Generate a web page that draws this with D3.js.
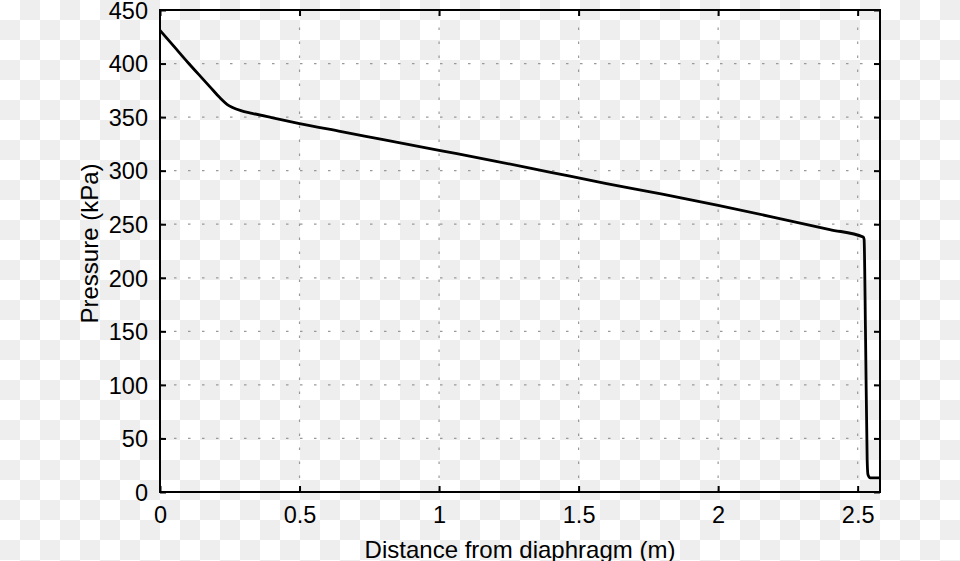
<!DOCTYPE html>
<html><head><meta charset="utf-8">
<script src="https://cdn.jsdelivr.net/npm/d3@7"></script>
<style>body{margin:0;padding:0;overflow:hidden}svg{display:block}</style>
</head><body>
<svg id="c" width="960" height="561"></svg>
<script>
const distance = [0, 0.05, 0.1, 0.145, 0.18, 0.215, 0.24, 0.26, 0.29, 0.33, 0.4, 0.5, 0.65, 0.8, 1.0, 1.2, 1.4, 1.6, 1.8, 2.0, 2.2, 2.4, 2.52, 2.523, 2.528, 2.534, 2.537, 2.545, 2.58];
const pressure = [431, 416, 401, 388, 378, 368, 362, 359, 356, 353.5, 349.5, 344, 336.5, 329, 319, 309, 298.5, 288, 278, 267.5, 256.5, 245, 238, 236, 150, 30, 16, 13.2, 13.2];
const xTicks = [0, 0.5, 1, 1.5, 2, 2.5];
const xTickLabels = ["0", "0.5", "1", "1.5", "2", "2.5"];
const yTicks = [0, 50, 100, 150, 200, 250, 300, 350, 400, 450];
const xLabel = "Distance from diaphragm (m)";
const yLabel = "Pressure (kPa)";

const svg = d3.select("#c");
const W = 960, H = 561;
const m = {l: 160, r: 80, t: 10, b: 69};
const defs = svg.append("defs");
const pat = defs.append("pattern").attr("id","chk").attr("width",40).attr("height",40).attr("patternUnits","userSpaceOnUse");
pat.append("rect").attr("width",40).attr("height",40).attr("fill","#ffffff");
pat.append("rect").attr("x",20).attr("y",0).attr("width",20).attr("height",20).attr("fill","#eeeeee");
pat.append("rect").attr("x",0).attr("y",20).attr("width",20).attr("height",20).attr("fill","#eeeeee");
svg.append("rect").attr("width",W).attr("height",H).attr("fill","url(#chk)");

const x = d3.scaleLinear().domain([0, 2.58]).range([m.l, W - m.r]);
const y = d3.scaleLinear().domain([0, 450]).range([H - m.b, m.t]);
const font = "'Liberation Sans', Arial, sans-serif";

// grid
const g = svg.append("g");
g.selectAll(".vg").data(xTicks.slice(1)).enter().append("line")
  .attr("x1", d => x(d)).attr("x2", d => x(d)).attr("y1", y(0)).attr("y2", y(450))
  .attr("stroke", "#999").attr("stroke-width", 1.2).attr("stroke-dasharray", "2.5,11.5");
g.selectAll(".hg").data(yTicks.slice(1, -1)).enter().append("line")
  .attr("y1", d => y(d)).attr("y2", d => y(d)).attr("x1", x(0)).attr("x2", x(2.58))
  .attr("stroke", "#999").attr("stroke-width", 1.2).attr("stroke-dasharray", "2.5,11.5");

// axes
const tickLen = 6;
const ax = svg.append("g").attr("transform", `translate(0,${y(0)})`)
  .call(d3.axisBottom(x).tickValues(xTicks).tickFormat((d,i)=>xTickLabels[i]).tickSizeInner(-tickLen).tickSizeOuter(0).tickPadding(14));
const axT = svg.append("g").attr("transform", `translate(0,${y(450)})`)
  .call(d3.axisTop(x).tickValues(xTicks).tickFormat("").tickSizeInner(-tickLen).tickSizeOuter(0));
const ay = svg.append("g").attr("transform", `translate(${x(0)},0)`)
  .call(d3.axisLeft(y).tickValues(yTicks).tickSizeInner(-tickLen).tickSizeOuter(0).tickPadding(12));
const ayR = svg.append("g").attr("transform", `translate(${x(2.58)},0)`)
  .call(d3.axisRight(y).tickValues(yTicks).tickFormat("").tickSizeInner(-tickLen).tickSizeOuter(0));
[ax, axT, ay, ayR].forEach(a => {
  a.select(".domain").remove();
  a.selectAll(".tick line").attr("stroke", "#000").attr("stroke-width", 2);
  a.selectAll("text").attr("font-family", font).attr("font-size", 23.5).attr("fill", "#000");
});
ay.selectAll("text").attr("dy", "0.35em");

// data line
const line = d3.line().x((d,i) => x(distance[i])).y(d => y(d)).curve(d3.curveMonotoneX);
svg.append("path").datum(pressure).attr("d", line)
  .attr("fill", "none").attr("stroke", "#000").attr("stroke-width", 2.8).attr("stroke-linejoin", "round");

// frame
svg.append("rect").attr("x", x(0)).attr("y", y(450)).attr("width", x(2.58) - x(0)).attr("height", y(0) - y(450))
  .attr("fill", "none").attr("stroke", "#000").attr("stroke-width", 2);

// labels
svg.append("text").attr("x", (x(0) + x(2.58)) / 2).attr("y", 558).attr("text-anchor", "middle")
  .attr("font-family", font).attr("font-size", 24).attr("fill", "#000").text(xLabel);
svg.append("text").attr("transform", `translate(98,${243.5}) rotate(-90)`).attr("text-anchor", "middle")
  .attr("font-family", font).attr("font-size", 24).attr("fill", "#000").text(yLabel);
</script>
</body></html>
